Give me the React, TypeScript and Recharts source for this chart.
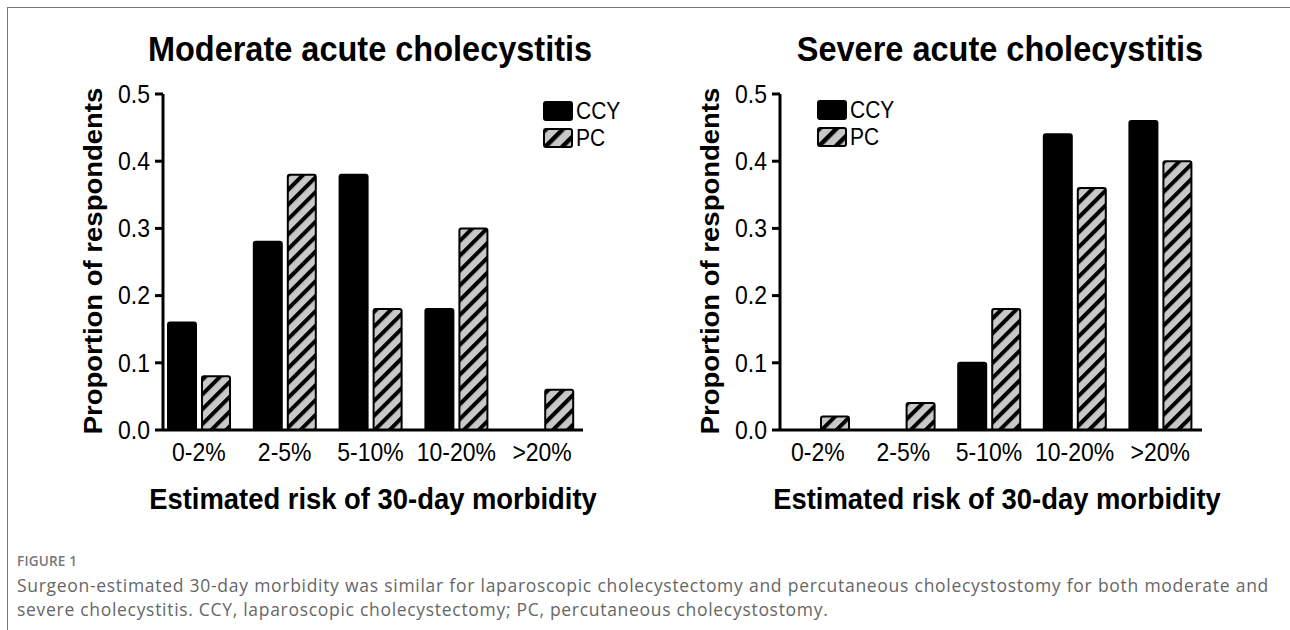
import React from "react";
import { BarChart, Bar, XAxis, YAxis } from "recharts";

const categories = ["0-2%", "2-5%", "5-10%", "10-20%", ">20%"];
const moderateCCY = [0.16, 0.28, 0.38, 0.18, 0];
const moderatePC = [0.08, 0.38, 0.18, 0.3, 0.06];
const severeCCY = [0, 0, 0.1, 0.44, 0.46];
const severePC = [0.02, 0.04, 0.18, 0.36, 0.4];
const yTicks = [0, 0.1, 0.2, 0.3, 0.4, 0.5];
const seriesNames = ["CCY", "PC"];

const FONT = "'Liberation Sans', Arial, Helvetica, sans-serif";
const STRETCH = 1.1;

const build = (ccy: number[], pc: number[]) =>
  categories.map((cat, i) => ({ cat, CCY: ccy[i], PC: pc[i] }));

const YTick = (props: any) => {
  const { x, y, payload } = props;
  return (
    <text
      transform={`translate(${x},${y}) scale(1,${STRETCH})`}
      textAnchor="end"
      dominantBaseline="central"
      fontFamily={FONT}
      fontSize={23}
      fill="#000"
    >
      {Number(payload.value).toFixed(1)}
    </text>
  );
};

const XTick = (props: any) => {
  const { x, y, payload } = props;
  return (
    <text
      transform={`translate(${x},${y + 22}) scale(1,${STRETCH})`}
      textAnchor="middle"
      dominantBaseline="central"
      fontFamily={FONT}
      fontSize={23}
      fill="#000"
    >
      {payload.value}
    </text>
  );
};

function Hatch({ id }: { id: string }) {
  return (
    <pattern id={id} patternUnits="userSpaceOnUse" width={10.5} height={10.5} patternTransform="rotate(45)">
      <rect width={10.5} height={10.5} fill="#c8c8c8" />
      <rect width={4} height={10.5} fill="#000" />
    </pattern>
  );
}

function Panel(props: {
  left: number;
  width: number;
  ccy: number[];
  pc: number[];
  margin: { top: number; right: number; bottom: number; left: number };
  padding: { left: number; right: number };
  hatchId: string;
}) {
  const { left, width, ccy, pc, margin, padding, hatchId } = props;
  return (
    <div style={{ position: "absolute", left, top: 0 }}>
      <BarChart
        width={width}
        height={540}
        data={build(ccy, pc)}
        margin={margin}
        barGap={6}
        barSize={28}
      >
        <defs>
          <Hatch id={hatchId} />
        </defs>
        <XAxis
          dataKey="cat"
          interval={0}
          tickLine={false}
          tickSize={0}
          tickMargin={0}
          height={30}
          padding={padding}
          axisLine={{ stroke: "#000", strokeWidth: 3 }}
          tick={<XTick />}
        />
        <YAxis
          domain={[0, 0.5]}
          ticks={yTicks}
          width={60}
          tickSize={8}
          tickMargin={5}
          tickLine={{ stroke: "#000", strokeWidth: 3 }}
          axisLine={{ stroke: "#000", strokeWidth: 3 }}
          tick={<YTick />}
        />
        <Bar dataKey="CCY" fill="#000" stroke="#000" strokeWidth={2} radius={2} isAnimationActive={false} />
        <Bar dataKey="PC" fill={`url(#${hatchId})`} stroke="#000" strokeWidth={2} radius={2} isAnimationActive={false} />
      </BarChart>
    </div>
  );
}

function LegendBox({ left, top }: { left: number; top: number }) {
  const pad = 6;
  return (
    <svg style={{ position: "absolute", left, top: top - pad, overflow: "visible" }} width={110} height={64}>
      <defs>
        <pattern id={`lg${left}`} patternUnits="userSpaceOnUse" width={12} height={12} patternTransform="rotate(45)">
          <rect width={12} height={12} fill="#c8c8c8" />
          <rect width={4.5} height={12} fill="#000" />
        </pattern>
      </defs>
      {seriesNames.map((name, i) => (
        <g key={name}>
          <rect
            x={1}
            y={pad + 1 + i * 27}
            width={28}
            height={18}
            rx={2}
            fill={i === 0 ? "#000" : `url(#lg${left})`}
            stroke="#000"
            strokeWidth={2}
          />
          <text
            transform={`translate(33,${pad + 10 + i * 27}) scale(1,${STRETCH})`}
            dominantBaseline="central"
            fontFamily={FONT}
            fontSize={21}
            fill="#000"
          >
            {name}
          </text>
        </g>
      ))}
    </svg>
  );
}

function Texts() {
  const bold = { fontFamily: FONT, fontWeight: 700, fill: "#000" } as const;
  return (
    <svg style={{ position: "absolute", left: 0, top: 0, pointerEvents: "none" }} width={1290} height={630}>
      <text transform={`translate(370,48) scale(1,${STRETCH})`} textAnchor="middle" dominantBaseline="central" fontSize={32.5} {...bold}>
        Moderate acute cholecystitis
      </text>
      <text transform={`translate(1000,48) scale(1,${STRETCH})`} textAnchor="middle" dominantBaseline="central" fontSize={32.5} {...bold}>
        Severe acute cholecystitis
      </text>
      <text transform={`translate(93,261) rotate(-90) scale(${STRETCH},1)`} textAnchor="middle" dominantBaseline="central" fontSize={25} {...bold}>
        Proportion of respondents
      </text>
      <text transform={`translate(710,261) rotate(-90) scale(${STRETCH},1)`} textAnchor="middle" dominantBaseline="central" fontSize={25} {...bold}>
        Proportion of respondents
      </text>
      <text transform={`translate(373,499) scale(1,${STRETCH})`} textAnchor="middle" dominantBaseline="central" fontSize={27.4} {...bold}>
        Estimated risk of 30-day morbidity
      </text>
      <text transform={`translate(997,499) scale(1,${STRETCH})`} textAnchor="middle" dominantBaseline="central" fontSize={27.4} {...bold}>
        Estimated risk of 30-day morbidity
      </text>
    </svg>
  );
}

export default function App() {
  const capFont = "'Open Sans', 'Noto Sans', sans-serif";
  return (
    <div style={{ position: "absolute", left: 0, top: 0, width: 1290, height: 630, background: "#fff", overflow: "hidden" }}>
      <div style={{ position: "absolute", left: 7, top: 7, width: 1283, height: 623, borderTop: "1px solid #777", borderLeft: "1px solid #777" }} />
      <Panel
        left={0}
        width={640}
        ccy={moderateCCY}
        pc={moderatePC}
        margin={{ top: 94, right: 57, bottom: 80, left: 103 }}
        padding={{ left: -7, right: -2 }}
        hatchId="hatchModerate"
      />
      <Panel
        left={640}
        width={650}
        ccy={severeCCY}
        pc={severePC}
        margin={{ top: 94, right: 88, bottom: 80, left: 80 }}
        padding={{ left: -5, right: -1 }}
        hatchId="hatchSevere"
      />
      <LegendBox left={543} top={101} />
      <LegendBox left={817} top={100} />
      <Texts />
      <div style={{ position: "absolute", left: 17, top: 552, fontFamily: capFont, fontSize: 13.5, fontWeight: 600, color: "#777", lineHeight: "18px", letterSpacing: 0.2 }}>
        FIGURE 1
      </div>
      <div style={{ position: "absolute", left: 17, top: 573, width: 1252, fontFamily: capFont, fontSize: 17.5, letterSpacing: 0.7, color: "#666", lineHeight: "24px", textAlign: "justify", textAlignLast: "justify" as any, whiteSpace: "nowrap" }}>
        Surgeon-estimated 30-day morbidity was similar for laparoscopic cholecystectomy and percutaneous cholecystostomy for both moderate and
      </div>
      <div style={{ position: "absolute", left: 17, top: 597, fontFamily: capFont, fontSize: 17.5, letterSpacing: 0.7, color: "#666", lineHeight: "24px", whiteSpace: "nowrap" }}>
        severe cholecystitis. CCY, laparoscopic cholecystectomy; PC, percutaneous cholecystostomy.
      </div>
    </div>
  );
}
